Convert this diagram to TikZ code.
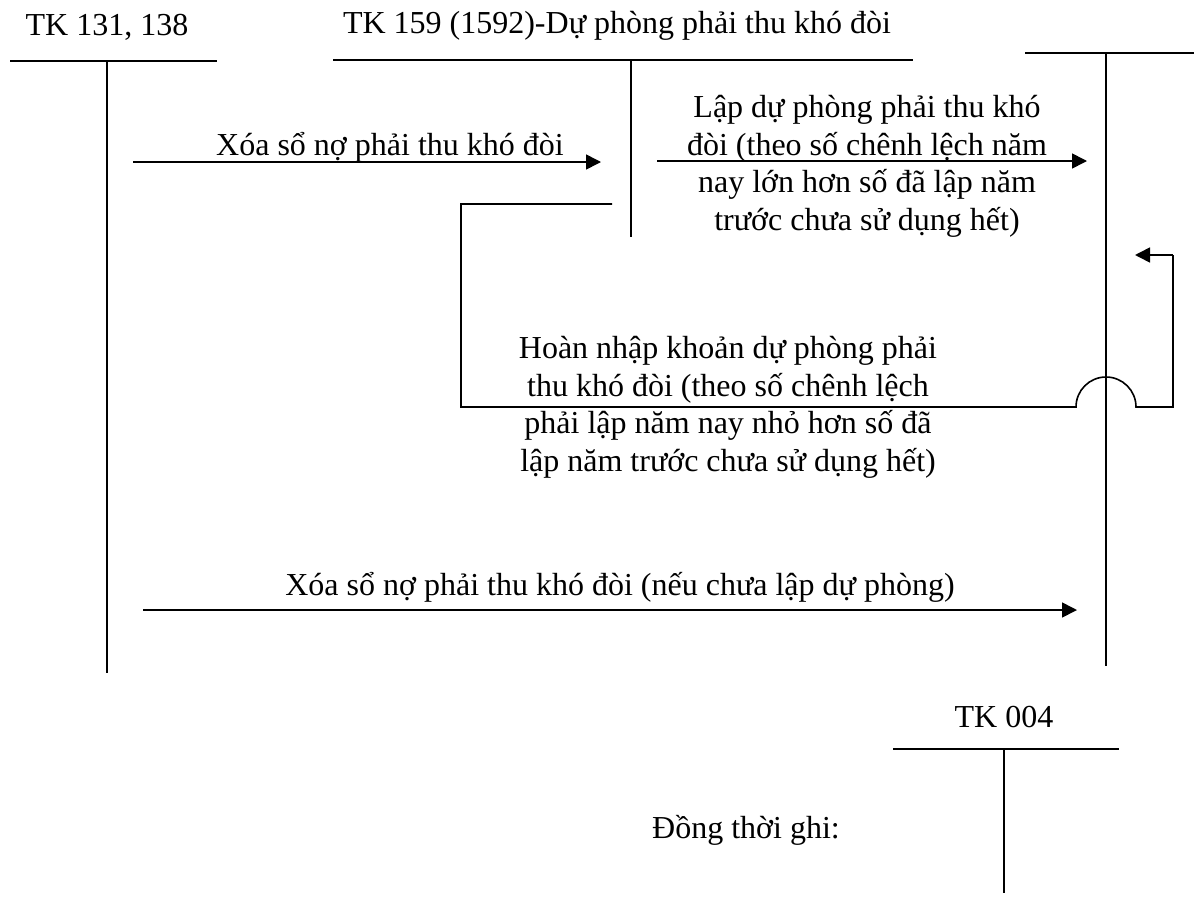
\documentclass[tikz,border=0pt]{standalone}
\usepackage{fontspec}
\setmainfont{Liberation Serif}
\usetikzlibrary{arrows.meta}

\begin{document}
\begin{tikzpicture}[x=1pt,y=-1pt,
  rule/.style={line width=1.6pt},
  flow/.style={line width=1.6pt,-{Triangle[length=15pt,width=15pt]}},
  lbl/.style={font=\fontsize{32}{37.5}\selectfont, inner sep=0pt, align=center, anchor=base}]
\useasboundingbox (0,0) rectangle (1194,897);

% T-account TK 131, 138
\node[lbl] (t131) at (107,35) {TK 131, 138};
\coordinate (a1L) at (10,61);  \coordinate (a1R) at (217,61);
\coordinate (a1T) at (107,61); \coordinate (a1B) at (107,673);
\draw[rule] (a1L) -- (a1R);
\draw[rule] (a1T) -- (a1B);

% T-account TK 159 (1592)
\node[lbl] (t159) at (617,33) {TK 159 (1592)-Dự phòng phải thu khó đòi};
\coordinate (a2L) at (333,60);  \coordinate (a2R) at (913,60);
\coordinate (a2T) at (631,60);  \coordinate (a2B) at (631,237);
\draw[rule] (a2L) -- (a2R);
\draw[rule] (a2T) -- (a2B);

% Expense account (untitled)
\coordinate (a3L) at (1025,53); \coordinate (a3R) at (1194,53);
\coordinate (a3T) at (1106,53); \coordinate (a3B) at (1106,666);
\draw[rule] (a3L) -- (a3R);
\draw[rule] (a3T) -- (a3B);

% T-account TK 004
\node[lbl] (t004) at (1004,727) {TK 004};
\coordinate (a4L) at (893,749);  \coordinate (a4R) at (1119,749);
\coordinate (a4T) at (1004,749); \coordinate (a4B) at (1004,893);
\draw[rule] (a4L) -- (a4R);
\draw[rule] (a4T) -- (a4B);

% Write-off against the allowance
\coordinate (f1s) at (133,162); \coordinate (f1e) at (601,162);
\draw[flow] (f1s) -- (f1e);
\node[lbl] (l1) at (390,155) {Xóa sổ nợ phải thu khó đòi};

% Setting up the allowance (multi-line: base is the last line)
\coordinate (f2s) at (657,161); \coordinate (f2e) at (1087,161);
\draw[flow] (f2s) -- (f2e);
\node[lbl] (l2) at (867,230) {Lập dự phòng phải thu khó\\đòi (theo số chênh lệch năm\\nay lớn hơn số đã lập năm\\trước chưa sử dụng hết)};

% Reversal of the allowance, hopping over the expense account
\coordinate (r0) at (612,204);
\coordinate (r1) at (461,204);
\coordinate (r2) at (461,407);
\coordinate (r3) at (1076,407);
\coordinate (r4) at (1173,407);
\coordinate (r5) at (1173,255);
\coordinate (r6) at (1135,255);
\draw[rule] (r0) -- (r1) -- (r2) -- (r3)
  arc[start angle=180, end angle=0, radius=30pt] -- (r4) -- (r5);
\draw[flow] (r5) -- (r6);
\node[lbl] (l3) at (728,471) {Hoàn nhập khoản dự phòng phải\\thu khó đòi (theo số chênh lệch\\phải lập năm nay nhỏ hơn số đã\\lập năm trước chưa sử dụng hết)};

% Direct write-off
\coordinate (f4s) at (143,610); \coordinate (f4e) at (1077,610);
\draw[flow] (f4s) -- (f4e);
\node[lbl] (l4) at (620,595) {Xóa sổ nợ phải thu khó đòi (nếu chưa lập dự phòng)};

\node[lbl] (l5) at (746,838) {Đồng thời ghi:};
\end{tikzpicture}
\end{document}
